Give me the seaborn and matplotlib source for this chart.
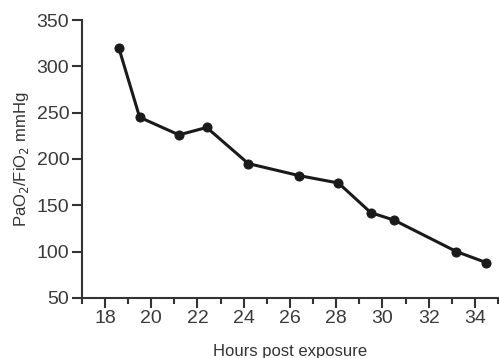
import matplotlib
matplotlib.use('Agg')
import matplotlib.pyplot as plt
import seaborn as sns
import pandas as pd
from matplotlib.ticker import MultipleLocator

# Values
hours = [18.6, 19.5, 21.2, 22.4, 24.2, 26.4, 28.1, 29.5, 30.5, 33.2, 34.5]
ratio = [320, 245, 226, 234, 195, 182, 174, 142, 134, 100, 88]

df = pd.DataFrame({'hours': hours, 'ratio': ratio})

sns.set_style('ticks')
plt.rcParams['font.family'] = ['Liberation Sans', 'DejaVu Sans']

fig = plt.figure(figsize=(4.99, 3.58), dpi=100)
ax = fig.add_axes([0.164, 0.168, 0.834, 0.776])

sns.lineplot(data=df, x='hours', y='ratio', ax=ax, color='#1a1a1a',
             linewidth=2.2, marker='o', markersize=6.5,
             markeredgecolor='#1a1a1a', markerfacecolor='#1a1a1a')

ax.set_xlim(17, 35)
ax.set_ylim(50, 350)
ax.xaxis.set_major_locator(MultipleLocator(2))
ax.xaxis.set_minor_locator(MultipleLocator(1))
ax.yaxis.set_major_locator(MultipleLocator(50))

sns.despine(ax=ax)
for s in ['left', 'bottom']:
    ax.spines[s].set_color('#333333')
    ax.spines[s].set_linewidth(1.5)

ax.tick_params(axis='both', which='major', length=7, width=1.5,
               color='#333333', labelsize=14, labelcolor='#3a3a3a', pad=2)
ax.tick_params(axis='x', which='minor', length=4, width=1.5, color='#333333')

ax.set_xlabel('Hours post exposure', fontsize=12, color='#333333', labelpad=12)
ax.set_ylabel('PaO$_2$/FiO$_2$ mmHg', fontsize=12, color='#333333', labelpad=4)

fig.savefig('out.png', dpi=100)
